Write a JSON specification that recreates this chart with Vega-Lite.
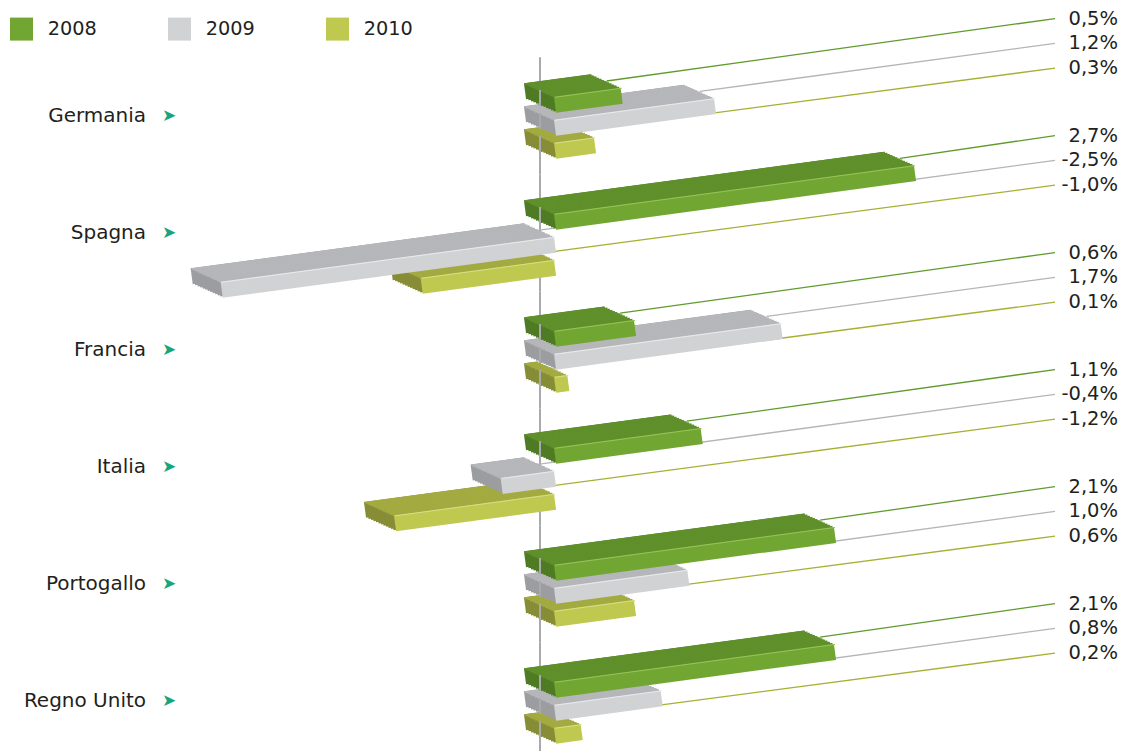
{
"$schema": "https://vega.github.io/schema/vega-lite/v6.json",
"padding": {"left": 0, "top": 8.3, "right": 0, "bottom": 0},
"background": "white",
"bounds": "flush",
"data": {"values": [
{"country": "Germania", "year": "2008", "v": 0.5},
{"country": "Germania", "year": "2009", "v": 1.2},
{"country": "Germania", "year": "2010", "v": 0.3},
{"country": "Spagna", "year": "2008", "v": 2.7},
{"country": "Spagna", "year": "2009", "v": -2.5},
{"country": "Spagna", "year": "2010", "v": -1.0},
{"country": "Francia", "year": "2008", "v": 0.6},
{"country": "Francia", "year": "2009", "v": 1.7},
{"country": "Francia", "year": "2010", "v": 0.1},
{"country": "Italia", "year": "2008", "v": 1.1},
{"country": "Italia", "year": "2009", "v": -0.4},
{"country": "Italia", "year": "2010", "v": -1.2},
{"country": "Portogallo", "year": "2008", "v": 2.1},
{"country": "Portogallo", "year": "2009", "v": 1.0},
{"country": "Portogallo", "year": "2010", "v": 0.6},
{"country": "Regno Unito", "year": "2008", "v": 2.1},
{"country": "Regno Unito", "year": "2009", "v": 0.8},
{"country": "Regno Unito", "year": "2010", "v": 0.2}
]},
"transform": [{"calculate": "replace(replace(format(datum.v, '.1f'), '.', ','), '\u2212', '-') + '%'", "as": "label"}],
"facet": {"row": {"field": "country", "type": "nominal", "sort": ["Germania", "Spagna", "Francia", "Italia", "Portogallo", "Regno Unito"], "header": null}},
"spacing": 0,
"spec": {
"width": 1122,
"height": 116.9,
"encoding": {
"x": {"field": "v", "type": "quantitative", "scale": {"domain": [-4.05, 4.365], "nice": false, "zero": false}, "axis": null},
"y": {"field": "v", "type": "quantitative", "scale": {"domain": [-3.2472, 3.2472], "nice": false, "zero": false}, "axis": null}
},
"layer": [
{"transform": [{"filter": "datum.year == '2008'"}], "mark": {"type": "rule", "color": "#a7a9ac", "strokeWidth": 2},
 "encoding": {"x": {"datum": 0, "type": "quantitative", "scale": {"domain": [-4.05, 4.365], "nice": false, "zero": false}, "axis": null}, "x2": {"datum": 0}, "y": {"datum": 3.2472, "type": "quantitative", "scale": {"domain": [-3.2472, 3.2472], "nice": false, "zero": false}, "axis": null}, "y2": {"datum": -3.2472}}},
{"transform": [{"filter": "datum.year == '2008'"}], "mark": {"type": "rule", "color": "#5f9b2c", "strokeWidth": 1.3, "yOffset": -25.75, "y2Offset": -97.2}, "encoding": {"x2": {"datum": 3.8625}, "y2": {"datum": 0}}},
{"transform": [{"filter": "datum.year == '2009'"}], "mark": {"type": "rule", "color": "#b5b5b7", "strokeWidth": 1.3, "yOffset": -2.75, "y2Offset": -72.3}, "encoding": {"x2": {"datum": 3.8625}, "y2": {"datum": 0}}},
{"transform": [{"filter": "datum.year == '2010'"}], "mark": {"type": "rule", "color": "#a6b032", "strokeWidth": 1.3, "yOffset": 20.25, "y2Offset": -47.6}, "encoding": {"x2": {"datum": 3.8625}, "y2": {"datum": 0}}},
{"transform": [{"filter": "datum.year == '2010'"}], "encoding": {"x2": {"datum": 0}, "y2": {"datum": 0}}, "layer": [
{"mark": {"type": "rule", "stroke": "#878c36", "strokeWidth": 16, "xOffset": -15, "x2Offset": -15, "yOffset": 21.5, "y2Offset": 21.5}},
{"mark": {"type": "rule", "stroke": "#878c36", "strokeWidth": 16, "xOffset": -12.5, "x2Offset": -12.5, "yOffset": 22.625, "y2Offset": 22.625}},
{"mark": {"type": "rule", "stroke": "#878c36", "strokeWidth": 16, "xOffset": -10, "x2Offset": -10, "yOffset": 23.75, "y2Offset": 23.75}},
{"mark": {"type": "rule", "stroke": "#878c36", "strokeWidth": 16, "xOffset": -7.5, "x2Offset": -7.5, "yOffset": 24.875, "y2Offset": 24.875}},
{"mark": {"type": "rule", "stroke": "#878c36", "strokeWidth": 16, "xOffset": -5, "x2Offset": -5, "yOffset": 26, "y2Offset": 26}},
{"mark": {"type": "rule", "stroke": "#878c36", "strokeWidth": 16, "xOffset": -2.5, "x2Offset": -2.5, "yOffset": 27.125, "y2Offset": 27.125}},
{"mark": {"type": "rule", "stroke": "#878c36", "strokeWidth": 16, "xOffset": 0, "x2Offset": 0, "yOffset": 28.25, "y2Offset": 28.25}},
{"mark": {"type": "rule", "stroke": "#878c36", "strokeWidth": 16, "xOffset": 2.5, "x2Offset": 2.5, "yOffset": 29.375, "y2Offset": 29.375}},
{"mark": {"type": "rule", "stroke": "#878c36", "strokeWidth": 16, "xOffset": 5, "x2Offset": 5, "yOffset": 30.5, "y2Offset": 30.5}},
{"mark": {"type": "rule", "stroke": "#878c36", "strokeWidth": 16, "xOffset": 7.5, "x2Offset": 7.5, "yOffset": 31.625, "y2Offset": 31.625}},
{"mark": {"type": "rule", "stroke": "#878c36", "strokeWidth": 16, "xOffset": 10, "x2Offset": 10, "yOffset": 32.75, "y2Offset": 32.75}},
{"mark": {"type": "rule", "stroke": "#878c36", "strokeWidth": 16, "xOffset": 12.5, "x2Offset": 12.5, "yOffset": 33.875, "y2Offset": 33.875}},
{"mark": {"type": "rule", "stroke": "#a3ab41", "strokeWidth": 2, "xOffset": -15, "x2Offset": -15, "yOffset": 14.5, "y2Offset": 14.5}},
{"mark": {"type": "rule", "stroke": "#a3ab41", "strokeWidth": 2, "xOffset": -12.5, "x2Offset": -12.5, "yOffset": 15.625, "y2Offset": 15.625}},
{"mark": {"type": "rule", "stroke": "#a3ab41", "strokeWidth": 2, "xOffset": -10, "x2Offset": -10, "yOffset": 16.75, "y2Offset": 16.75}},
{"mark": {"type": "rule", "stroke": "#a3ab41", "strokeWidth": 2, "xOffset": -7.5, "x2Offset": -7.5, "yOffset": 17.875, "y2Offset": 17.875}},
{"mark": {"type": "rule", "stroke": "#a3ab41", "strokeWidth": 2, "xOffset": -5, "x2Offset": -5, "yOffset": 19, "y2Offset": 19}},
{"mark": {"type": "rule", "stroke": "#a3ab41", "strokeWidth": 2, "xOffset": -2.5, "x2Offset": -2.5, "yOffset": 20.125, "y2Offset": 20.125}},
{"mark": {"type": "rule", "stroke": "#a3ab41", "strokeWidth": 2, "xOffset": 0, "x2Offset": 0, "yOffset": 21.25, "y2Offset": 21.25}},
{"mark": {"type": "rule", "stroke": "#a3ab41", "strokeWidth": 2, "xOffset": 2.5, "x2Offset": 2.5, "yOffset": 22.375, "y2Offset": 22.375}},
{"mark": {"type": "rule", "stroke": "#a3ab41", "strokeWidth": 2, "xOffset": 5, "x2Offset": 5, "yOffset": 23.5, "y2Offset": 23.5}},
{"mark": {"type": "rule", "stroke": "#a3ab41", "strokeWidth": 2, "xOffset": 7.5, "x2Offset": 7.5, "yOffset": 24.625, "y2Offset": 24.625}},
{"mark": {"type": "rule", "stroke": "#a3ab41", "strokeWidth": 2, "xOffset": 10, "x2Offset": 10, "yOffset": 25.75, "y2Offset": 25.75}},
{"mark": {"type": "rule", "stroke": "#a3ab41", "strokeWidth": 2, "xOffset": 12.5, "x2Offset": 12.5, "yOffset": 26.875, "y2Offset": 26.875}},
{"mark": {"type": "rule", "stroke": "#bfc84f", "strokeWidth": 16, "xOffset": 15, "x2Offset": 15, "yOffset": 35, "y2Offset": 35}},
{"mark": {"type": "rule", "stroke": "#d8de8a", "strokeWidth": 1, "xOffset": 15, "x2Offset": 15, "yOffset": 27.5, "y2Offset": 27.5}},
{"transform": [{"filter": "datum.v >= 0"}], "mark": {"type": "rule", "stroke": "#a7a9ac", "strokeWidth": 2, "yOffset": 20.25, "y2Offset": 36.25},
 "encoding": {"x": {"datum": 0, "type": "quantitative", "scale": {"domain": [-4.05, 4.365], "nice": false, "zero": false}, "axis": null}, "y": {"datum": 0, "type": "quantitative", "scale": {"domain": [-3.2472, 3.2472], "nice": false, "zero": false}, "axis": null}}}
]},
{"transform": [{"filter": "datum.year == '2009'"}], "encoding": {"x2": {"datum": 0}, "y2": {"datum": 0}}, "layer": [
{"mark": {"type": "rule", "stroke": "#9c9da0", "strokeWidth": 16, "xOffset": -15, "x2Offset": -15, "yOffset": -1.5, "y2Offset": -1.5}},
{"mark": {"type": "rule", "stroke": "#9c9da0", "strokeWidth": 16, "xOffset": -12.5, "x2Offset": -12.5, "yOffset": -0.375, "y2Offset": -0.375}},
{"mark": {"type": "rule", "stroke": "#9c9da0", "strokeWidth": 16, "xOffset": -10, "x2Offset": -10, "yOffset": 0.75, "y2Offset": 0.75}},
{"mark": {"type": "rule", "stroke": "#9c9da0", "strokeWidth": 16, "xOffset": -7.5, "x2Offset": -7.5, "yOffset": 1.875, "y2Offset": 1.875}},
{"mark": {"type": "rule", "stroke": "#9c9da0", "strokeWidth": 16, "xOffset": -5, "x2Offset": -5, "yOffset": 3, "y2Offset": 3}},
{"mark": {"type": "rule", "stroke": "#9c9da0", "strokeWidth": 16, "xOffset": -2.5, "x2Offset": -2.5, "yOffset": 4.125, "y2Offset": 4.125}},
{"mark": {"type": "rule", "stroke": "#9c9da0", "strokeWidth": 16, "xOffset": 0, "x2Offset": 0, "yOffset": 5.25, "y2Offset": 5.25}},
{"mark": {"type": "rule", "stroke": "#9c9da0", "strokeWidth": 16, "xOffset": 2.5, "x2Offset": 2.5, "yOffset": 6.375, "y2Offset": 6.375}},
{"mark": {"type": "rule", "stroke": "#9c9da0", "strokeWidth": 16, "xOffset": 5, "x2Offset": 5, "yOffset": 7.5, "y2Offset": 7.5}},
{"mark": {"type": "rule", "stroke": "#9c9da0", "strokeWidth": 16, "xOffset": 7.5, "x2Offset": 7.5, "yOffset": 8.625, "y2Offset": 8.625}},
{"mark": {"type": "rule", "stroke": "#9c9da0", "strokeWidth": 16, "xOffset": 10, "x2Offset": 10, "yOffset": 9.75, "y2Offset": 9.75}},
{"mark": {"type": "rule", "stroke": "#9c9da0", "strokeWidth": 16, "xOffset": 12.5, "x2Offset": 12.5, "yOffset": 10.875, "y2Offset": 10.875}},
{"mark": {"type": "rule", "stroke": "#b6b7ba", "strokeWidth": 2, "xOffset": -15, "x2Offset": -15, "yOffset": -8.5, "y2Offset": -8.5}},
{"mark": {"type": "rule", "stroke": "#b6b7ba", "strokeWidth": 2, "xOffset": -12.5, "x2Offset": -12.5, "yOffset": -7.375, "y2Offset": -7.375}},
{"mark": {"type": "rule", "stroke": "#b6b7ba", "strokeWidth": 2, "xOffset": -10, "x2Offset": -10, "yOffset": -6.25, "y2Offset": -6.25}},
{"mark": {"type": "rule", "stroke": "#b6b7ba", "strokeWidth": 2, "xOffset": -7.5, "x2Offset": -7.5, "yOffset": -5.125, "y2Offset": -5.125}},
{"mark": {"type": "rule", "stroke": "#b6b7ba", "strokeWidth": 2, "xOffset": -5, "x2Offset": -5, "yOffset": -4, "y2Offset": -4}},
{"mark": {"type": "rule", "stroke": "#b6b7ba", "strokeWidth": 2, "xOffset": -2.5, "x2Offset": -2.5, "yOffset": -2.875, "y2Offset": -2.875}},
{"mark": {"type": "rule", "stroke": "#b6b7ba", "strokeWidth": 2, "xOffset": 0, "x2Offset": 0, "yOffset": -1.75, "y2Offset": -1.75}},
{"mark": {"type": "rule", "stroke": "#b6b7ba", "strokeWidth": 2, "xOffset": 2.5, "x2Offset": 2.5, "yOffset": -0.625, "y2Offset": -0.625}},
{"mark": {"type": "rule", "stroke": "#b6b7ba", "strokeWidth": 2, "xOffset": 5, "x2Offset": 5, "yOffset": 0.5, "y2Offset": 0.5}},
{"mark": {"type": "rule", "stroke": "#b6b7ba", "strokeWidth": 2, "xOffset": 7.5, "x2Offset": 7.5, "yOffset": 1.625, "y2Offset": 1.625}},
{"mark": {"type": "rule", "stroke": "#b6b7ba", "strokeWidth": 2, "xOffset": 10, "x2Offset": 10, "yOffset": 2.75, "y2Offset": 2.75}},
{"mark": {"type": "rule", "stroke": "#b6b7ba", "strokeWidth": 2, "xOffset": 12.5, "x2Offset": 12.5, "yOffset": 3.875, "y2Offset": 3.875}},
{"mark": {"type": "rule", "stroke": "#d1d2d4", "strokeWidth": 16, "xOffset": 15, "x2Offset": 15, "yOffset": 12, "y2Offset": 12}},
{"mark": {"type": "rule", "stroke": "#e9eaeb", "strokeWidth": 1, "xOffset": 15, "x2Offset": 15, "yOffset": 4.5, "y2Offset": 4.5}},
{"transform": [{"filter": "datum.v >= 0"}], "mark": {"type": "rule", "stroke": "#a7a9ac", "strokeWidth": 2, "yOffset": -2.75, "y2Offset": 13.25},
 "encoding": {"x": {"datum": 0, "type": "quantitative", "scale": {"domain": [-4.05, 4.365], "nice": false, "zero": false}, "axis": null}, "y": {"datum": 0, "type": "quantitative", "scale": {"domain": [-3.2472, 3.2472], "nice": false, "zero": false}, "axis": null}}}
]},
{"transform": [{"filter": "datum.year == '2008'"}], "encoding": {"x2": {"datum": 0}, "y2": {"datum": 0}}, "layer": [
{"mark": {"type": "rule", "stroke": "#4e7b23", "strokeWidth": 16, "xOffset": -15, "x2Offset": -15, "yOffset": -24.5, "y2Offset": -24.5}},
{"mark": {"type": "rule", "stroke": "#4e7b23", "strokeWidth": 16, "xOffset": -12.5, "x2Offset": -12.5, "yOffset": -23.375, "y2Offset": -23.375}},
{"mark": {"type": "rule", "stroke": "#4e7b23", "strokeWidth": 16, "xOffset": -10, "x2Offset": -10, "yOffset": -22.25, "y2Offset": -22.25}},
{"mark": {"type": "rule", "stroke": "#4e7b23", "strokeWidth": 16, "xOffset": -7.5, "x2Offset": -7.5, "yOffset": -21.125, "y2Offset": -21.125}},
{"mark": {"type": "rule", "stroke": "#4e7b23", "strokeWidth": 16, "xOffset": -5, "x2Offset": -5, "yOffset": -20, "y2Offset": -20}},
{"mark": {"type": "rule", "stroke": "#4e7b23", "strokeWidth": 16, "xOffset": -2.5, "x2Offset": -2.5, "yOffset": -18.875, "y2Offset": -18.875}},
{"mark": {"type": "rule", "stroke": "#4e7b23", "strokeWidth": 16, "xOffset": 0, "x2Offset": 0, "yOffset": -17.75, "y2Offset": -17.75}},
{"mark": {"type": "rule", "stroke": "#4e7b23", "strokeWidth": 16, "xOffset": 2.5, "x2Offset": 2.5, "yOffset": -16.625, "y2Offset": -16.625}},
{"mark": {"type": "rule", "stroke": "#4e7b23", "strokeWidth": 16, "xOffset": 5, "x2Offset": 5, "yOffset": -15.5, "y2Offset": -15.5}},
{"mark": {"type": "rule", "stroke": "#4e7b23", "strokeWidth": 16, "xOffset": 7.5, "x2Offset": 7.5, "yOffset": -14.375, "y2Offset": -14.375}},
{"mark": {"type": "rule", "stroke": "#4e7b23", "strokeWidth": 16, "xOffset": 10, "x2Offset": 10, "yOffset": -13.25, "y2Offset": -13.25}},
{"mark": {"type": "rule", "stroke": "#4e7b23", "strokeWidth": 16, "xOffset": 12.5, "x2Offset": 12.5, "yOffset": -12.125, "y2Offset": -12.125}},
{"mark": {"type": "rule", "stroke": "#60902b", "strokeWidth": 2, "xOffset": -15, "x2Offset": -15, "yOffset": -31.5, "y2Offset": -31.5}},
{"mark": {"type": "rule", "stroke": "#60902b", "strokeWidth": 2, "xOffset": -12.5, "x2Offset": -12.5, "yOffset": -30.375, "y2Offset": -30.375}},
{"mark": {"type": "rule", "stroke": "#60902b", "strokeWidth": 2, "xOffset": -10, "x2Offset": -10, "yOffset": -29.25, "y2Offset": -29.25}},
{"mark": {"type": "rule", "stroke": "#60902b", "strokeWidth": 2, "xOffset": -7.5, "x2Offset": -7.5, "yOffset": -28.125, "y2Offset": -28.125}},
{"mark": {"type": "rule", "stroke": "#60902b", "strokeWidth": 2, "xOffset": -5, "x2Offset": -5, "yOffset": -27, "y2Offset": -27}},
{"mark": {"type": "rule", "stroke": "#60902b", "strokeWidth": 2, "xOffset": -2.5, "x2Offset": -2.5, "yOffset": -25.875, "y2Offset": -25.875}},
{"mark": {"type": "rule", "stroke": "#60902b", "strokeWidth": 2, "xOffset": 0, "x2Offset": 0, "yOffset": -24.75, "y2Offset": -24.75}},
{"mark": {"type": "rule", "stroke": "#60902b", "strokeWidth": 2, "xOffset": 2.5, "x2Offset": 2.5, "yOffset": -23.625, "y2Offset": -23.625}},
{"mark": {"type": "rule", "stroke": "#60902b", "strokeWidth": 2, "xOffset": 5, "x2Offset": 5, "yOffset": -22.5, "y2Offset": -22.5}},
{"mark": {"type": "rule", "stroke": "#60902b", "strokeWidth": 2, "xOffset": 7.5, "x2Offset": 7.5, "yOffset": -21.375, "y2Offset": -21.375}},
{"mark": {"type": "rule", "stroke": "#60902b", "strokeWidth": 2, "xOffset": 10, "x2Offset": 10, "yOffset": -20.25, "y2Offset": -20.25}},
{"mark": {"type": "rule", "stroke": "#60902b", "strokeWidth": 2, "xOffset": 12.5, "x2Offset": 12.5, "yOffset": -19.125, "y2Offset": -19.125}},
{"mark": {"type": "rule", "stroke": "#72a632", "strokeWidth": 16, "xOffset": 15, "x2Offset": 15, "yOffset": -11, "y2Offset": -11}},
{"mark": {"type": "rule", "stroke": "#98c45a", "strokeWidth": 1, "xOffset": 15, "x2Offset": 15, "yOffset": -18.5, "y2Offset": -18.5}},
{"transform": [{"filter": "datum.v >= 0"}], "mark": {"type": "rule", "stroke": "#a7a9ac", "strokeWidth": 2, "yOffset": -25.75, "y2Offset": -9.75},
 "encoding": {"x": {"datum": 0, "type": "quantitative", "scale": {"domain": [-4.05, 4.365], "nice": false, "zero": false}, "axis": null}, "y": {"datum": 0, "type": "quantitative", "scale": {"domain": [-3.2472, 3.2472], "nice": false, "zero": false}, "axis": null}}}
]},
{"transform": [{"filter": "datum.year == '2008'"}], "mark": {"type": "text", "align": "right", "baseline": "middle", "font": "DejaVu Sans", "fontSize": 19.5, "color": "#231f20", "yOffset": -97.2},
 "encoding": {"x": {"datum": 4.335, "type": "quantitative", "scale": {"domain": [-4.05, 4.365], "nice": false, "zero": false}, "axis": null}, "y": {"datum": 0, "type": "quantitative", "scale": {"domain": [-3.2472, 3.2472], "nice": false, "zero": false}, "axis": null}, "text": {"field": "label"}}},
{"transform": [{"filter": "datum.year == '2009'"}], "mark": {"type": "text", "align": "right", "baseline": "middle", "font": "DejaVu Sans", "fontSize": 19.5, "color": "#231f20", "yOffset": -72.3},
 "encoding": {"x": {"datum": 4.335, "type": "quantitative", "scale": {"domain": [-4.05, 4.365], "nice": false, "zero": false}, "axis": null}, "y": {"datum": 0, "type": "quantitative", "scale": {"domain": [-3.2472, 3.2472], "nice": false, "zero": false}, "axis": null}, "text": {"field": "label"}}},
{"transform": [{"filter": "datum.year == '2010'"}], "mark": {"type": "text", "align": "right", "baseline": "middle", "font": "DejaVu Sans", "fontSize": 19.5, "color": "#231f20", "yOffset": -47.6},
 "encoding": {"x": {"datum": 4.335, "type": "quantitative", "scale": {"domain": [-4.05, 4.365], "nice": false, "zero": false}, "axis": null}, "y": {"datum": 0, "type": "quantitative", "scale": {"domain": [-3.2472, 3.2472], "nice": false, "zero": false}, "axis": null}, "text": {"field": "label"}}},
{"transform": [{"filter": "datum.year == '2008'"}], "mark": {"type": "text", "align": "right", "baseline": "middle", "font": "DejaVu Sans", "fontSize": 20, "color": "#231f20"},
 "encoding": {"x": {"datum": -2.955, "type": "quantitative", "scale": {"domain": [-4.05, 4.365], "nice": false, "zero": false}, "axis": null}, "y": {"datum": 0, "type": "quantitative", "scale": {"domain": [-3.2472, 3.2472], "nice": false, "zero": false}, "axis": null}, "text": {"field": "country"}}},
{"transform": [{"filter": "datum.year == '2008'"}], "mark": {"type": "text", "align": "center", "baseline": "middle", "font": "DejaVu Sans", "fontSize": 17, "color": "#17a57c", "text": "➤"},
 "encoding": {"x": {"datum": -2.7825, "type": "quantitative", "scale": {"domain": [-4.05, 4.365], "nice": false, "zero": false}, "axis": null}, "y": {"datum": 0, "type": "quantitative", "scale": {"domain": [-3.2472, 3.2472], "nice": false, "zero": false}, "axis": null}}},
{"mark": {"type": "square", "size": 0, "filled": true, "opacity": 1},
 "encoding": {"color": {"field": "year", "type": "nominal", "scale": {"domain": ["2008", "2009", "2010"], "range": ["#72a632", "#d1d2d4", "#bfc84f"]},
  "legend": {"title": null, "orient": "none", "legendX": 10, "legendY": -39.7, "direction": "horizontal", "symbolType": "square", "symbolSize": 529, "symbolStrokeWidth": 0, "symbolOpacity": 1, "labelFont": "DejaVu Sans", "labelFontSize": 19.3, "labelColor": "#231f20", "labelOffset": 14.7, "columnPadding": 71, "padding": 0}}}}
]
},
"config": {"view": {"stroke": null}, "axis": {"disable": true}}
}
